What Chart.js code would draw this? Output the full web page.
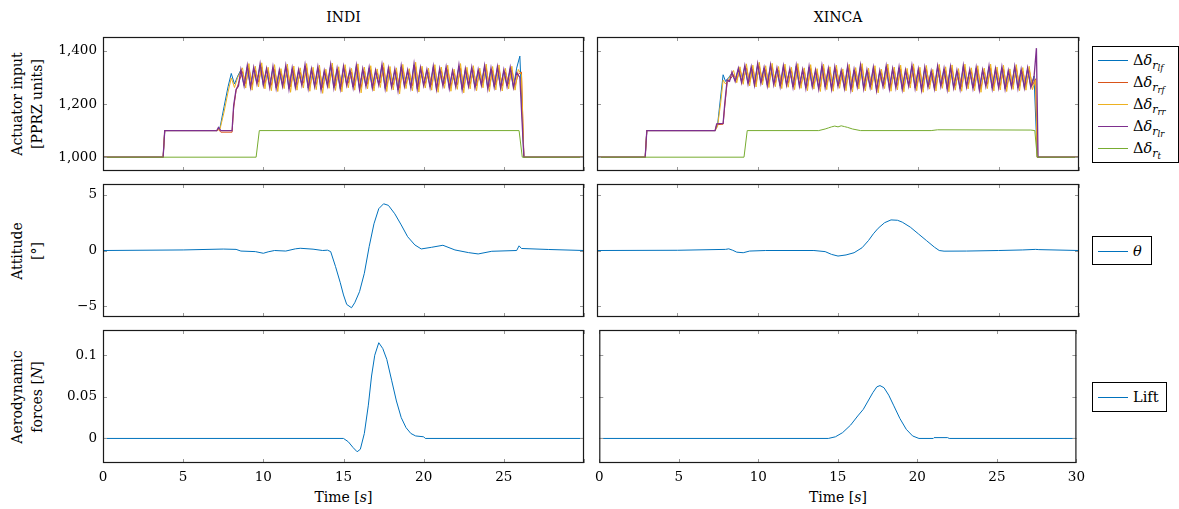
<!DOCTYPE html>
<html>
<head>
<meta charset="utf-8">
<script src="https://cdn.jsdelivr.net/npm/chart.js@4.4.0/dist/chart.umd.min.js"></script>
<style>
  body { margin: 0; width: 1179px; height: 509px; position: relative; overflow: hidden; background: #fff;
         font-family: "DejaVu Serif", serif; color: #000; }
  canvas { position: absolute; }
  .t { position: absolute; font-size: 14px; white-space: nowrap; transform: translate(-50%, -50%); }
  .yl { position: absolute; font-size: 14px; line-height: 20px; text-align: center; white-space: nowrap;
        transform: translate(-50%, -50%) rotate(-90deg); }
  .lg { position: absolute; box-sizing: border-box; border: 1px solid #000; background: #fff; font-size: 14.5px; }
  .row { position: absolute; left: 5px; height: 20px; width: 100px; }
  .sw { position: absolute; left: 0; top: 10px; width: 30px; border-top: 1px solid; }
  .lab { position: absolute; left: 35px; top: 0; line-height: 20px; white-space: nowrap; }
  .s1 { font-size: 11px; position: relative; top: 4px; }
  .s2 { font-size: 8.5px; position: relative; top: 2px; }
</style>
</head>
<body>

<div class="t" style="left:343.5px; top:17px;">INDI</div>
<div class="t" style="left:838px; top:17px;">XINCA</div>
<div class="t" style="left:343.5px; top:497px;">Time [<i>s</i>]</div>
<div class="t" style="left:838px; top:497px;">Time [<i>s</i>]</div>

<div class="yl" style="left:27px; top:104px;">Actuator input<br>[PPRZ units]</div>
<div class="yl" style="left:27px; top:250.5px;">Attitude<br>[°]</div>
<div class="yl" style="left:27px; top:396.5px;">Aerodynamic<br>forces [<i>N</i>]</div>

<div class="lg" style="left:1092px; top:46px; width:87px; height:117px;">
  <div class="row" style="top:3px;"><div class="sw" style="border-color:#0072BD"></div><div class="lab">Δ<i>δ</i><span class="s1"><i>r</i><span class="s2"><i>lf</i></span></span></div></div>
  <div class="row" style="top:25px;"><div class="sw" style="border-color:#D95319"></div><div class="lab">Δ<i>δ</i><span class="s1"><i>r</i><span class="s2"><i>rf</i></span></span></div></div>
  <div class="row" style="top:47px;"><div class="sw" style="border-color:#EDB120"></div><div class="lab">Δ<i>δ</i><span class="s1"><i>r</i><span class="s2"><i>rr</i></span></span></div></div>
  <div class="row" style="top:69px;"><div class="sw" style="border-color:#7E2F8E"></div><div class="lab">Δ<i>δ</i><span class="s1"><i>r</i><span class="s2"><i>lr</i></span></span></div></div>
  <div class="row" style="top:91px;"><div class="sw" style="border-color:#77AC30"></div><div class="lab">Δ<i>δ</i><span class="s1"><i>r</i><span class="s2"><i>t</i></span></span></div></div>
</div>
<div class="lg" style="left:1092px; top:236px; width:60px; height:29px;">
  <div class="row" style="top:3.5px;"><div class="sw" style="border-color:#0072BD"></div><div class="lab"><i>θ</i></div></div>
</div>
<div class="lg" style="left:1092px; top:382px; width:75px; height:30px;">
  <div class="row" style="top:4px;"><div class="sw" style="border-color:#0072BD"></div><div class="lab">Lift</div></div>
</div>

<script>
// ---- data ----
const timeTicks = [0, 5, 10, 15, 20, 25, 30];
const actTicks = [1000, 1200, 1400];
const attTicks = [-5, 0, 5];
const liftTicks = [0, 0.05, 0.1];

// INDI actuators
const indiFastT = [0, 3.75, 3.85, 7.1, 7.3, 7.55, 7.8, 8.0, 8.2, 8.4];
const indiSlowT = [0, 3.75, 3.85, 7.1, 7.2, 7.35, 8.05, 8.15, 8.3, 8.45];
const indiBluePre = [1000, 1000, 1100, 1100, 1112, 1190, 1265, 1315, 1275, 1305];
const indiYellowPre = [1000, 1000, 1100, 1100, 1106, 1170, 1245, 1298, 1262, 1300];
const indiRedPre = [1000, 1000, 1100, 1100, 1104, 1094, 1094, 1185, 1250, 1278];
const indiPurplePre = [1000, 1000, 1100, 1100, 1112, 1100, 1100, 1195, 1255, 1268];

// samples for lf / lr motors
const indiBandT = [8.6, 8.8, 9, 9.2, 9.4, 9.6, 9.8,
  10, 10.2, 10.4, 10.6, 10.8, 11, 11.2, 11.4, 11.6, 11.8,
  12, 12.2, 12.4, 12.6, 12.8, 13, 13.2, 13.4, 13.6, 13.8,
  14, 14.2, 14.4, 14.6, 14.8, 15, 15.2, 15.4, 15.6, 15.8,
  16, 16.2, 16.4, 16.6, 16.8, 17, 17.2, 17.4, 17.6, 17.8,
  18, 18.2, 18.4, 18.6, 18.8, 19, 19.2, 19.4, 19.6, 19.8,
  20, 20.2, 20.4, 20.6, 20.8, 21, 21.2, 21.4, 21.6, 21.8,
  22, 22.2, 22.4, 22.6, 22.8, 23, 23.2, 23.4, 23.6, 23.8,
  24, 24.2, 24.4, 24.6, 24.8, 25, 25.2, 25.4, 25.6, 25.8,
  26];
// samples for rf / rr motors
const indiBandT2 = [8.7, 8.9, 9.1, 9.3, 9.5, 9.7, 9.9,
  10.1, 10.3, 10.5, 10.7, 10.9, 11.1, 11.3, 11.5, 11.7, 11.9,
  12.1, 12.3, 12.5, 12.7, 12.9, 13.1, 13.3, 13.5, 13.7, 13.9,
  14.1, 14.3, 14.5, 14.7, 14.9, 15.1, 15.3, 15.5, 15.7, 15.9,
  16.1, 16.3, 16.5, 16.7, 16.9, 17.1, 17.3, 17.5, 17.7, 17.9,
  18.1, 18.3, 18.5, 18.7, 18.9, 19.1, 19.3, 19.5, 19.7, 19.9,
  20.1, 20.3, 20.5, 20.7, 20.9, 21.1, 21.3, 21.5, 21.7, 21.9,
  22.1, 22.3, 22.5, 22.7, 22.9, 23.1, 23.3, 23.5, 23.7, 23.9,
  24.1, 24.3, 24.5, 24.7, 24.9, 25.1, 25.3, 25.5, 25.7, 25.9,
  26.1];
const indiBlueBand = [1328,1270, 1340,1265, 1333,1278, 1346,1272, 1330,1265, 1336,1261, 1323,1270, 1340,1258, 1331,1265, 1325,1273,
  1343,1260, 1328,1268, 1335,1255, 1321,1271, 1345,1262, 1330,1258, 1337,1273, 1324,1264, 1341,1256, 1328,1269,
  1334,1261, 1322,1274, 1344,1259, 1331,1266, 1326,1253, 1339,1270, 1323,1262, 1347,1258, 1333,1272, 1326,1265,
  1338,1257, 1329,1271, 1335,1261, 1321,1267, 1342,1255, 1328,1269, 1334,1263, 1325,1273, 1340,1260, 1331,1266,
  1336,1262, 1324,1269, 1333,1264, 1335,1380];
const indiRedBand = [1322,1276, 1335,1270, 1328,1282, 1340,1277, 1325,1270, 1331,1266, 1318,1274, 1334,1264, 1327,1270, 1320,1278,
  1337,1266, 1323,1273, 1330,1261, 1317,1276, 1339,1268, 1326,1264, 1332,1278, 1320,1269, 1336,1262, 1324,1274,
  1329,1267, 1318,1279, 1338,1265, 1327,1271, 1322,1259, 1334,1275, 1319,1268, 1341,1264, 1328,1277, 1321,1270,
  1333,1263, 1325,1276, 1330,1266, 1317,1272, 1336,1261, 1324,1274, 1329,1268, 1321,1278, 1335,1265, 1327,1271,
  1331,1267, 1320,1274, 1328,1269, 1312,1320];
const indiYellowBand = [1336,1260, 1352,1252, 1342,1264, 1355,1257, 1338,1250, 1348,1247, 1333,1258, 1350,1244, 1343,1252, 1336,1260,
  1352,1248, 1338,1254, 1346,1240, 1331,1259, 1354,1251, 1340,1246, 1348,1261, 1334,1252, 1351,1242, 1339,1257,
  1344,1249, 1332,1262, 1355,1247, 1341,1253, 1336,1238, 1349,1258, 1333,1250, 1357,1245, 1342,1260, 1335,1252,
  1348,1244, 1339,1259, 1346,1248, 1331,1255, 1352,1242, 1338,1257, 1344,1250, 1335,1261, 1350,1247, 1341,1253,
  1347,1249, 1334,1257, 1342,1252, 1330,1310];
const indiPurpleBand = [1330,1268, 1345,1262, 1338,1275, 1352,1270, 1334,1262, 1341,1258, 1328,1266, 1345,1255, 1336,1262, 1330,1270,
  1348,1258, 1332,1265, 1340,1252, 1326,1268, 1350,1260, 1335,1256, 1342,1270, 1329,1261, 1346,1254, 1333,1266,
  1339,1259, 1327,1271, 1349,1257, 1336,1263, 1331,1250, 1344,1267, 1328,1260, 1352,1256, 1337,1269, 1330,1262,
  1343,1255, 1334,1268, 1340,1258, 1326,1264, 1347,1253, 1333,1266, 1339,1260, 1330,1270, 1345,1257, 1336,1263,
  1341,1259, 1329,1266, 1338,1261, 1318,1300];
const indiEndT = [26.25, 30];
const indiEndV = [1000, 1000];
const indiGreenT = [0, 9.55, 9.75, 25.95, 26.15, 30];
const indiGreenV = [1000, 1000, 1100, 1100, 1000, 1000];

// XINCA actuators
const xincaFastT = [0, 3.0, 3.1, 7.35, 7.5, 7.7, 7.85, 8.0, 8.2];
const xincaSlowT = [0, 3.0, 3.1, 7.35, 7.45, 7.85, 7.95, 8.1, 8.25];
const xincaBluePre = [1000, 1000, 1100, 1100, 1120, 1230, 1310, 1285, 1300];
const xincaYellowPre = [1000, 1000, 1100, 1100, 1115, 1205, 1290, 1275, 1295];
const xincaRedPre = [1000, 1000, 1100, 1100, 1122, 1124, 1190, 1280, 1290];
const xincaPurplePre = [1000, 1000, 1100, 1100, 1125, 1127, 1200, 1290, 1285];

const xincaBandT = [8.4, 8.6, 8.8, 9, 9.2, 9.4, 9.6, 9.8,
  10, 10.2, 10.4, 10.6, 10.8, 11, 11.2, 11.4, 11.6, 11.8,
  12, 12.2, 12.4, 12.6, 12.8, 13, 13.2, 13.4, 13.6, 13.8,
  14, 14.2, 14.4, 14.6, 14.8, 15, 15.2, 15.4, 15.6, 15.8,
  16, 16.2, 16.4, 16.6, 16.8, 17, 17.2, 17.4, 17.6, 17.8,
  18, 18.2, 18.4, 18.6, 18.8, 19, 19.2, 19.4, 19.6, 19.8,
  20, 20.2, 20.4, 20.6, 20.8, 21, 21.2, 21.4, 21.6, 21.8,
  22, 22.2, 22.4, 22.6, 22.8, 23, 23.2, 23.4, 23.6, 23.8,
  24, 24.2, 24.4, 24.6, 24.8, 25, 25.2, 25.4, 25.6, 25.8,
  26, 26.2, 26.4, 26.6, 26.8, 27, 27.2];
const xincaBandT2 = [8.5, 8.7, 8.9, 9.1, 9.3, 9.5, 9.7, 9.9,
  10.1, 10.3, 10.5, 10.7, 10.9, 11.1, 11.3, 11.5, 11.7, 11.9,
  12.1, 12.3, 12.5, 12.7, 12.9, 13.1, 13.3, 13.5, 13.7, 13.9,
  14.1, 14.3, 14.5, 14.7, 14.9, 15.1, 15.3, 15.5, 15.7, 15.9,
  16.1, 16.3, 16.5, 16.7, 16.9, 17.1, 17.3, 17.5, 17.7, 17.9,
  18.1, 18.3, 18.5, 18.7, 18.9, 19.1, 19.3, 19.5, 19.7, 19.9,
  20.1, 20.3, 20.5, 20.7, 20.9, 21.1, 21.3, 21.5, 21.7, 21.9,
  22.1, 22.3, 22.5, 22.7, 22.9, 23.1, 23.3, 23.5, 23.7, 23.9,
  24.1, 24.3, 24.5, 24.7, 24.9, 25.1, 25.3, 25.5, 25.7, 25.9,
  26.1, 26.3, 26.5, 26.7, 26.9, 27.1, 27.3];
const xincaBlueBand = [1316,1288, 1332,1284, 1341,1278, 1336,1274, 1348,1281, 1334,1272, 1344,1276, 1332,1268, 1340,1273, 1329,1265,
  1342,1269, 1326,1261, 1338,1267, 1324,1259, 1341,1265, 1330,1258, 1336,1269, 1323,1261, 1339,1256, 1327,1267,
  1343,1260, 1325,1265, 1334,1253, 1322,1268, 1340,1259, 1329,1264, 1336,1257, 1324,1270, 1342,1261, 1328,1255,
  1335,1266, 1321,1260, 1339,1269, 1330,1257, 1337,1263, 1323,1258, 1341,1267, 1326,1261, 1334,1255, 1325,1269,
  1340,1260, 1329,1264, 1336,1258, 1322,1266, 1338,1261, 1327,1263, 1332,1265, 1305];
const xincaRedBand = [1310,1292, 1328,1288, 1336,1282, 1332,1278, 1343,1285, 1330,1276, 1340,1280, 1328,1273, 1336,1278, 1325,1270,
  1338,1274, 1322,1266, 1334,1272, 1320,1264, 1337,1270, 1326,1263, 1332,1274, 1319,1266, 1335,1261, 1323,1272,
  1339,1265, 1321,1270, 1330,1258, 1318,1273, 1336,1264, 1325,1269, 1332,1262, 1320,1275, 1338,1266, 1324,1260,
  1331,1271, 1317,1265, 1335,1274, 1326,1262, 1333,1268, 1319,1263, 1337,1272, 1322,1266, 1330,1260, 1321,1274,
  1336,1265, 1325,1269, 1332,1263, 1318,1271, 1334,1266, 1323,1268, 1328,1270, 1295];
const xincaYellowBand = [1326,1280, 1340,1274, 1351,1268, 1346,1264, 1357,1272, 1344,1262, 1353,1265, 1341,1258, 1350,1263, 1338,1254,
  1352,1259, 1336,1250, 1348,1256, 1333,1247, 1350,1254, 1340,1248, 1346,1259, 1332,1250, 1349,1245, 1337,1257,
  1352,1249, 1335,1254, 1344,1242, 1331,1258, 1350,1248, 1339,1253, 1346,1246, 1334,1260, 1351,1250, 1338,1244,
  1345,1256, 1330,1249, 1349,1259, 1340,1246, 1347,1252, 1333,1248, 1350,1257, 1336,1250, 1344,1244, 1335,1258,
  1350,1249, 1339,1253, 1346,1247, 1332,1255, 1348,1250, 1337,1252, 1342,1254, 1290];
const xincaPurpleBand = [1320,1285, 1335,1280, 1345,1275, 1340,1270, 1352,1278, 1338,1268, 1348,1272, 1336,1265, 1344,1270, 1333,1262,
  1346,1266, 1330,1258, 1342,1264, 1328,1256, 1345,1262, 1334,1255, 1340,1266, 1327,1258, 1343,1253, 1331,1264,
  1347,1257, 1329,1262, 1338,1250, 1326,1265, 1344,1256, 1333,1261, 1340,1254, 1328,1267, 1346,1258, 1332,1252,
  1339,1263, 1325,1257, 1343,1266, 1334,1254, 1341,1260, 1327,1255, 1345,1264, 1330,1258, 1338,1252, 1329,1266,
  1344,1257, 1333,1261, 1340,1255, 1326,1263, 1342,1258, 1331,1260, 1336,1262, 1300];
const xincaEndT = [27.4, 30];
const xincaEndV = [1000, 1000];
const xincaPurpleEndT = [27.35, 27.45, 30];
const xincaPurpleEndV = [1410, 1000, 1000];
const xincaGreenT = [0, 9.15, 9.35, 13.8, 14.2, 14.4, 14.6, 14.8, 15.0, 15.2, 15.4, 15.6, 15.9, 16.4, 20.8, 21.2, 27.0, 27.25, 27.4, 30];
const xincaGreenV = [1000, 1000, 1100, 1100, 1106, 1110, 1114, 1117, 1114, 1118, 1115, 1112, 1106, 1100, 1100, 1103, 1102, 1100, 1000, 1000];

// pitch attitude
const indiThetaT = [0, 5, 7.5, 8.3, 8.6, 9.5, 10.0, 10.3, 10.7, 11.4, 12.0, 12.3, 13.1, 13.7, 14.0, 14.2, 14.5, 14.8, 15.0, 15.2,
  15.5, 15.7, 16.0, 16.3, 16.6, 16.9, 17.2, 17.5, 17.8, 18.2, 18.6, 19.0, 19.45, 19.85, 20.5, 21.2, 21.95, 22.8, 23.4, 24.25,
  25.8, 25.95, 26.1, 27.8, 30];
const indiThetaV = [0, 0.05, 0.13, 0.1, -0.05, -0.1, -0.25, -0.12, 0, -0.05, 0.15, 0.2, 0.12, 0, 0.03, -0.1, -1.43, -2.9, -4.0, -4.85,
  -5.15, -4.7, -3.7, -2.05, 0.34, 2.4, 3.76, 4.2, 4.06, 3.3, 2.3, 1.24, 0.5, 0.14, 0.29, 0.47, 0.05, -0.19, -0.31, -0.07,
  0, 0.42, 0.18, 0.09, 0];
const xincaThetaT = [0, 5, 8.0, 8.2, 8.45, 8.7, 9.1, 9.5, 10.5, 13.5, 14.2, 14.6, 15.0, 15.5, 16.0, 16.5, 16.9, 17.2, 17.5, 17.9,
  18.3, 18.7, 19.0, 19.5, 20.0, 20.5, 21.0, 21.3, 21.6, 23, 25, 26.5, 27.3, 27.5, 30];
const xincaThetaV = [0, 0.02, 0.1, 0.15, 0.02, -0.15, -0.2, -0.05, 0, 0, -0.1, -0.35, -0.5, -0.4, -0.2, 0.25, 0.9, 1.5, 2.0, 2.5,
  2.75, 2.72, 2.55, 2.1, 1.5, 0.9, 0.3, 0, -0.06, -0.05, 0, 0.05, 0.1, 0.08, 0];

// lift
const indiLiftT = [0, 15.0, 15.3, 15.6, 15.85, 16.05, 16.3, 16.55, 16.75, 16.95, 17.2, 17.45, 17.7, 18.0, 18.3, 18.6, 18.9, 19.2, 19.5, 20.0, 20.1, 30];
const indiLiftV = [0, 0, -0.004, -0.011, -0.016, -0.013, 0.006, 0.04, 0.075, 0.1, 0.115, 0.108, 0.095, 0.07, 0.045, 0.025, 0.013, 0.006, 0.003, 0.002, 0, 0];
const xincaLiftT = [0, 14.4, 14.85, 15.3, 15.8, 16.25, 16.6, 16.9, 17.2, 17.45, 17.65, 17.9, 18.2, 18.5, 18.9, 19.3, 19.7, 20.1, 21.0, 21.05, 21.9, 22.0, 30];
const xincaLiftV = [0, 0, 0.002, 0.007, 0.016, 0.027, 0.035, 0.045, 0.055, 0.062, 0.0635, 0.061, 0.052, 0.04, 0.024, 0.011, 0.003, 0, 0, 0.001, 0.001, 0, 0];

// ---- drawing ----
const BLUE = '#0072BD', RED = '#D95319', YELLOW = '#EDB120', PURPLE = '#7E2F8E', GREEN = '#77AC30';
const tickFont = { family: 'DejaVu Serif', size: 13.5 };

const pts = (ts, vs) => ts.map((t, i) => ({ x: t, y: vs[i] }));
const line = (data, color, order, width) => ({ data, borderColor: color, backgroundColor: color, borderWidth: width || 1, order, fill: false });

// pgfplots-like frame and inward tick marks
const frameTicks = {
  id: 'frameTicks',
  afterDatasetsDraw(chart) {
    const { ctx, chartArea: a, scales: { x, y } } = chart;
    ctx.save();
    ctx.strokeStyle = '#999';
    ctx.lineWidth = 1;
    ctx.beginPath();
    x.ticks.forEach(t => {
      const px = Math.round(x.getPixelForValue(t.value)) + 0.5;
      ctx.moveTo(px, a.top); ctx.lineTo(px, a.top + 4);
      ctx.moveTo(px, a.bottom); ctx.lineTo(px, a.bottom - 4);
    });
    y.ticks.forEach(t => {
      const py = Math.round(y.getPixelForValue(t.value)) + 0.5;
      ctx.moveTo(a.left, py); ctx.lineTo(a.left + 4, py);
      ctx.moveTo(a.right, py); ctx.lineTo(a.right - 4, py);
    });
    ctx.stroke();
    ctx.strokeStyle = '#1a1a1a';
    ctx.lineWidth = 1.2;
    ctx.strokeRect(a.left + 0.5, a.top + 0.5, a.width - 1, a.height - 1);
    ctx.restore();
  }
};

function panel(box, datasets, yMin, yMax, yTicks, yFmt, showY, showX, hide30) {
  // margins are wider than half a tick label so Chart.js never shrinks the plot area
  const padL = showY ? 52 : 8, padT = 16, padR = 12, padB = showX ? 30 : 16;
  const c = document.createElement('canvas');
  c.width = padL + box.w + padR;
  c.height = padT + box.h + padB;
  c.style.left = (box.x - padL) + 'px';
  c.style.top = (box.y - padT) + 'px';
  document.body.appendChild(c);
  new Chart(c, {
    type: 'line',
    data: { datasets },
    options: {
      responsive: false,
      animation: false,
      devicePixelRatio: 1,
      layout: { padding: { left: 0, top: padT, right: padR, bottom: 0 } },
      plugins: { legend: { display: false }, tooltip: { enabled: false } },
      elements: { point: { radius: 0 }, line: { tension: 0 } },
      scales: {
        x: {
          type: 'linear', min: 0, max: 30,
          grid: { display: false, drawTicks: false }, border: { display: false },
          afterBuildTicks: s => { s.ticks = timeTicks.map(v => ({ value: v })); },
          afterFit: s => { s.height = padB; },
          ticks: { display: showX, padding: 6, font: tickFont, color: '#000', maxRotation: 0, autoSkip: false,
                   callback: v => (hide30 && v === 30) ? '' : String(v) }
        },
        y: {
          type: 'linear', min: yMin, max: yMax,
          grid: { display: false, drawTicks: false }, border: { display: false },
          afterBuildTicks: s => { s.ticks = yTicks.map(v => ({ value: v })); },
          afterFit: s => { s.width = padL; },
          ticks: { display: showY, padding: 6, font: tickFont, color: '#000', autoSkip: false, callback: yFmt }
        }
      }
    },
    plugins: [frameTicks]
  });
}

const fmtAct = v => v.toLocaleString('en-US');
const fmtAtt = v => v < 0 ? '\u2212' + Math.abs(v) : String(v);
const fmtLift = v => String(v);

const L = { x: 103, w: 481 }, R = { x: 597, w: 482 };
const rows = [{ y: 37, h: 134 }, { y: 184, h: 133 }, { y: 330, h: 133 }];
const box = (col, r) => ({ x: col.x, w: col.w, y: rows[r].y, h: rows[r].h });

panel(box(L, 0), [
  line(pts(indiFastT.concat(indiBandT, indiEndT), indiBluePre.concat(indiBlueBand, indiEndV)), BLUE, 5),
  line(pts(indiSlowT.concat(indiBandT2, indiEndT), indiRedPre.concat(indiRedBand, indiEndV)), RED, 4),
  line(pts(indiFastT.concat(indiBandT2, indiEndT), indiYellowPre.concat(indiYellowBand, indiEndV)), YELLOW, 3),
  line(pts(indiSlowT.concat(indiBandT, indiEndT), indiPurplePre.concat(indiPurpleBand, indiEndV)), PURPLE, 2, 1.3),
  line(pts(indiGreenT, indiGreenV), GREEN, 1)
], 948, 1452, actTicks, fmtAct, true, false, true);

panel(box(R, 0), [
  line(pts(xincaFastT.concat(xincaBandT, xincaEndT), xincaBluePre.concat(xincaBlueBand, xincaEndV)), BLUE, 5),
  line(pts(xincaSlowT.concat(xincaBandT2, xincaEndT), xincaRedPre.concat(xincaRedBand, xincaEndV)), RED, 4),
  line(pts(xincaFastT.concat(xincaBandT2, xincaEndT), xincaYellowPre.concat(xincaYellowBand, xincaEndV)), YELLOW, 3),
  line(pts(xincaSlowT.concat(xincaBandT, xincaPurpleEndT), xincaPurplePre.concat(xincaPurpleBand, xincaPurpleEndV)), PURPLE, 2, 1.3),
  line(pts(xincaGreenT, xincaGreenV), GREEN, 1)
], 948, 1452, actTicks, fmtAct, false, false, false);

panel(box(L, 1), [line(pts(indiThetaT, indiThetaV), BLUE, 1)], -5.98, 5.98, attTicks, fmtAtt, true, false, true);
panel(box(R, 1), [line(pts(xincaThetaT, xincaThetaV), BLUE, 1)], -5.98, 5.98, attTicks, fmtAtt, false, false, false);

panel(box(L, 2), [line(pts(indiLiftT, indiLiftV), BLUE, 1)], -0.0295, 0.1303, liftTicks, fmtLift, true, true, true);
panel(box(R, 2), [line(pts(xincaLiftT, xincaLiftV), BLUE, 1)], -0.0295, 0.1303, liftTicks, fmtLift, false, true, false);
</script>
</body>
</html>
